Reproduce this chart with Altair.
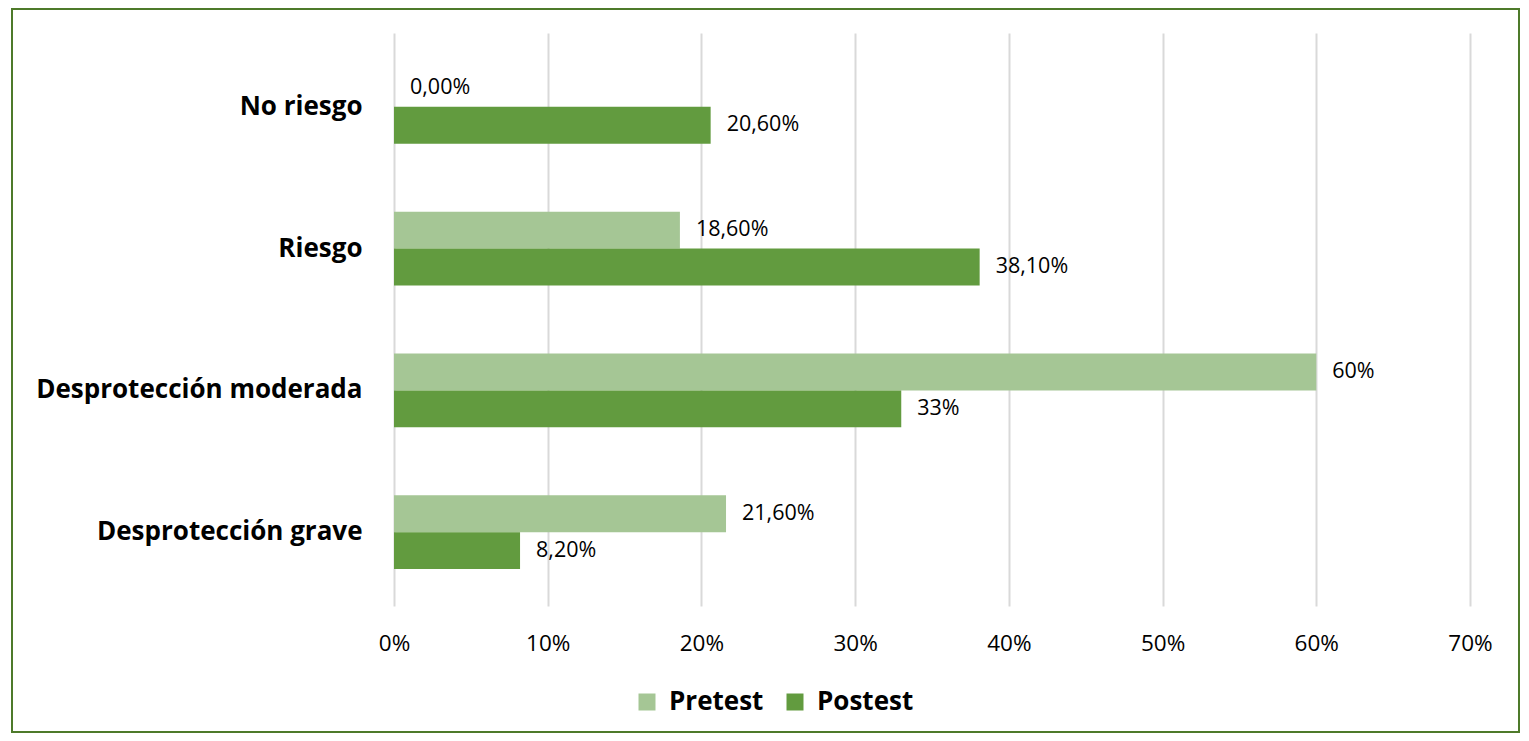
import altair as alt
import pandas as pd

categories = ["No riesgo", "Riesgo", "Desprotección moderada", "Desprotección grave"]
series = ["Pretest", "Postest"]
pretest = [0.0, 18.6, 60.0, 21.6]
postest = [20.6, 38.1, 33.0, 8.2]
pretest_labels = ["0,00%", "18,60%", "60%", "21,60%"]
postest_labels = ["20,60%", "38,10%", "33%", "8,20%"]
colors = ["#A5C695", "#629B3F"]

rows = []
for c, v, l in zip(categories, pretest, pretest_labels):
    rows.append({"cat": c, "serie": "Pretest", "val": v, "lab": l})
for c, v, l in zip(categories, postest, postest_labels):
    rows.append({"cat": c, "serie": "Postest", "val": v, "lab": l})
df = pd.DataFrame(rows)

FONT = "Open Sans"

y_enc = alt.Y("cat:N", sort=categories, title=None,
              scale=alt.Scale(paddingInner=0.48, paddingOuter=0.26),
              axis=alt.Axis(labelFontSize=26, labelFontWeight="bold", labelColor="#000000",
                            labelFont=FONT, ticks=False, domain=False, labelPadding=32,
                            labelLimit=500, grid=False))
x_enc = alt.X("val:Q", title=None,
              scale=alt.Scale(domain=[0, 70], nice=False),
              axis=alt.Axis(values=[0, 10, 20, 30, 40, 50, 60, 70],
                            labelExpr="datum.value + '%'",
                            labelFontSize=22.5, labelColor="#000000", labelFont=FONT,
                            labelFlush=False,
                            ticks=False, domain=False, labelPadding=26,
                            grid=True, gridColor="#D9D9D9", gridWidth=2))
yoff = alt.YOffset("serie:N", sort=series, scale=alt.Scale(paddingInner=0, paddingOuter=0))

bars = alt.Chart(df).mark_bar().encode(
    y=y_enc, x=x_enc, yOffset=yoff,
    color=alt.Color("serie:N", sort=series,
                    scale=alt.Scale(domain=series, range=colors),
                    legend=alt.Legend(title=None, orient="none", direction="horizontal",
                                      legendX=240, legendY=656,
                                      symbolType="square", symbolSize=289,
                                      symbolStrokeWidth=0, symbolOpacity=1,
                                      labelFontSize=26, labelFontWeight="bold",
                                      labelFont=FONT, labelColor="#000000",
                                      columnPadding=18, labelOffset=9))
)

labels = alt.Chart(df).mark_text(align="left", baseline="middle", dx=16,
                                 fontSize=21.5, font=FONT, color="#000000").encode(
    y=alt.Y("cat:N", sort=categories), x="val:Q", yOffset=yoff, text="lab:N"
)

border = alt.Chart(pd.DataFrame({"a": [0]})).mark_rect(
    fill=None, stroke="#4E7A2A", strokeWidth=2
).encode(x=alt.value(-382), x2=alt.value(1125), y=alt.value(-24), y2=alt.value(699))

chart = alt.layer(border, bars, labels).properties(
    width=1076, height=573,
    autosize=alt.AutoSizeParams(type="none"),
    padding={"left": 386, "top": 25, "right": 51, "bottom": 127},
).configure_view(stroke=None)

chart.save("out.html", embed_options={"renderer": "svg", "actions": False})
